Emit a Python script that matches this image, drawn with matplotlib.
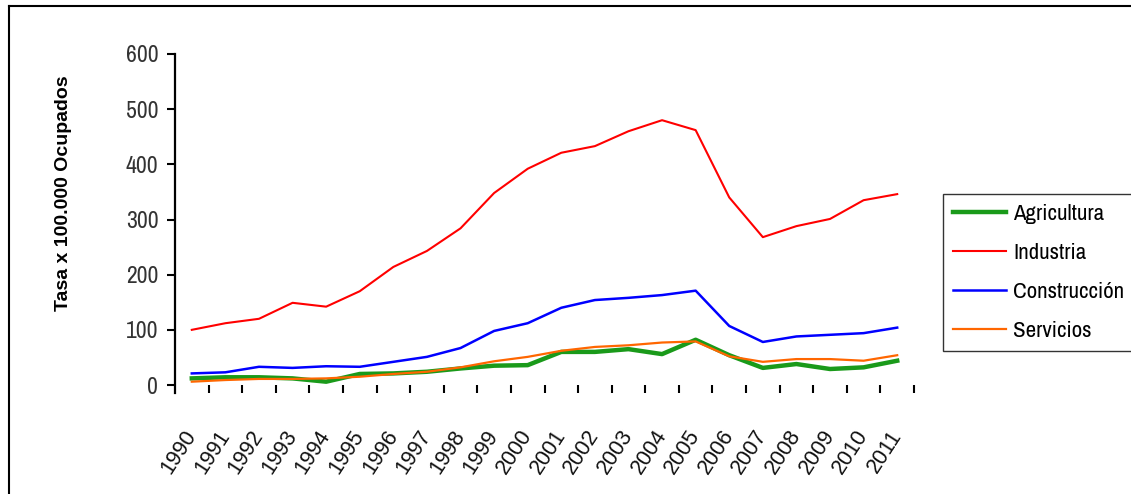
import matplotlib
matplotlib.use("Agg")
import matplotlib.pyplot as plt
from matplotlib import font_manager
from matplotlib.font_manager import FontProperties
from matplotlib.lines import Line2D

# ---- data ----
years = [str(y) for y in range(1990, 2012)]
agricultura = [12, 14, 14, 12, 6, 20, 21, 24, 30, 35, 36, 60, 60, 65, 56, 82, 54, 31, 38, 29, 32, 44]
industria = [100, 112, 120, 149, 142, 170, 214, 243, 284, 348, 392, 421, 433, 460, 480, 462, 340, 268, 288, 301, 335, 346]
construccion = [21, 23, 33, 31, 34, 33, 42, 51, 67, 98, 112, 140, 154, 158, 163, 171, 107, 78, 88, 91, 94, 104]
servicios = [6, 9, 11, 11, 12, 15, 20, 24, 32, 43, 51, 62, 69, 72, 77, 79, 52, 42, 47, 47, 44, 54]
series_names = ["Agricultura", "Industria", "Construcción", "Servicios"]
yticks = [0, 100, 200, 300, 400, 500, 600]
ylabel = "Tasa x 100.000 Ocupados"

# ---- pick a narrow/condensed font if one is installed ----
flist = font_manager.fontManager.ttflist


def find_font(weight_bold):
    prefs = []
    for f in flist:
        nm = f.name
        st = str(f.stretch)
        is_bold = (f.weight in ("bold", 700) or (isinstance(f.weight, int) and f.weight >= 600))
        if is_bold != weight_bold or f.style != "normal":
            continue
        score = None
        if nm in ("Liberation Sans Narrow", "Arial Narrow"):
            score = 0
        elif "Narrow" in nm:
            score = 1
        elif "Condensed" in nm or st in ("condensed", "semi-condensed", "500", "600"):
            if "Sans" in nm or "Roboto" in nm or "Condensed" in nm:
                score = 2
        if score is not None:
            prefs.append((score, f.fname))
    prefs.sort()
    return prefs[0][1] if prefs else None


reg_file = find_font(False)
if reg_file:
    fp_reg = FontProperties(fname=reg_file)
    base = 16.5
else:
    fp_reg = FontProperties(family="Liberation Sans")
    base = 14

W, H = 1131, 494
fig = plt.figure(figsize=(W / 100, H / 100), dpi=100)
fig.patch.set_facecolor("white")

# outer frame (left and top edges)
fig.add_artist(Line2D([9 / W, 9 / W], [0, 1 - 6 / H], color="black", lw=1.5, transform=fig.transFigure))
fig.add_artist(Line2D([9 / W, 1], [1 - 6 / H, 1 - 6 / H], color="black", lw=1.5, transform=fig.transFigure))

ax = fig.add_axes([175 / W, 1 - 393 / H, (914 - 175) / W, (393 - 54) / H])
x = list(range(len(years)))
ax.plot(x, agricultura, color="#1a9a1a", lw=3.2, label=series_names[0])
ax.plot(x, industria, color="#ff0000", lw=1.5, label=series_names[1])
ax.plot(x, construccion, color="#0000ff", lw=1.8, label=series_names[2])
ax.plot(x, servicios, color="#ff6600", lw=1.6, label=series_names[3])

ax.set_xlim(-0.5, len(years) - 0.5)
ax.set_ylim(-14.5, 600)
for s in ["top", "right", "bottom"]:
    ax.spines[s].set_visible(False)
ax.spines["left"].set_linewidth(1.6)

ax.set_yticks(yticks)
ax.set_yticklabels([str(v) for v in yticks], color="#333333")
for t in ax.get_yticklabels():
    t.set_fontproperties(fp_reg)
    t.set_fontsize(base + 0.5)
ax.tick_params(axis="y", direction="out", length=6, width=1.5, pad=6)

ax.set_xticks([i + 0.5 for i in range(len(years))])
ax.set_xticklabels([])
ax.tick_params(axis="x", which="major", direction="in", length=6, width=1.5)
ax.set_xticks(x, minor=True)
ax.set_xticklabels(years, minor=True, rotation=57, ha="right", va="center",
                   rotation_mode="anchor", color="#111111",
                   fontfamily="Liberation Sans", fontsize=15.5)
ax.tick_params(axis="x", which="minor", length=0, pad=28)

fig.text(64 / W, 1 - 193 / H, ylabel, rotation=90, ha="center", va="center",
         fontfamily="Liberation Sans", fontweight="bold", fontsize=14)

lp = fp_reg.copy()
lp.set_size(base)
leg = fig.legend(loc="upper left", bbox_to_anchor=(943 / W, 1 - 194 / H), prop=lp,
                 frameon=True, fancybox=False, edgecolor="black", handlelength=2.3,
                 handletextpad=0.3, labelspacing=0.82, borderpad=0.45, borderaxespad=0)
leg.get_frame().set_linewidth(1.0)

fig.savefig("out.png", dpi=100)
